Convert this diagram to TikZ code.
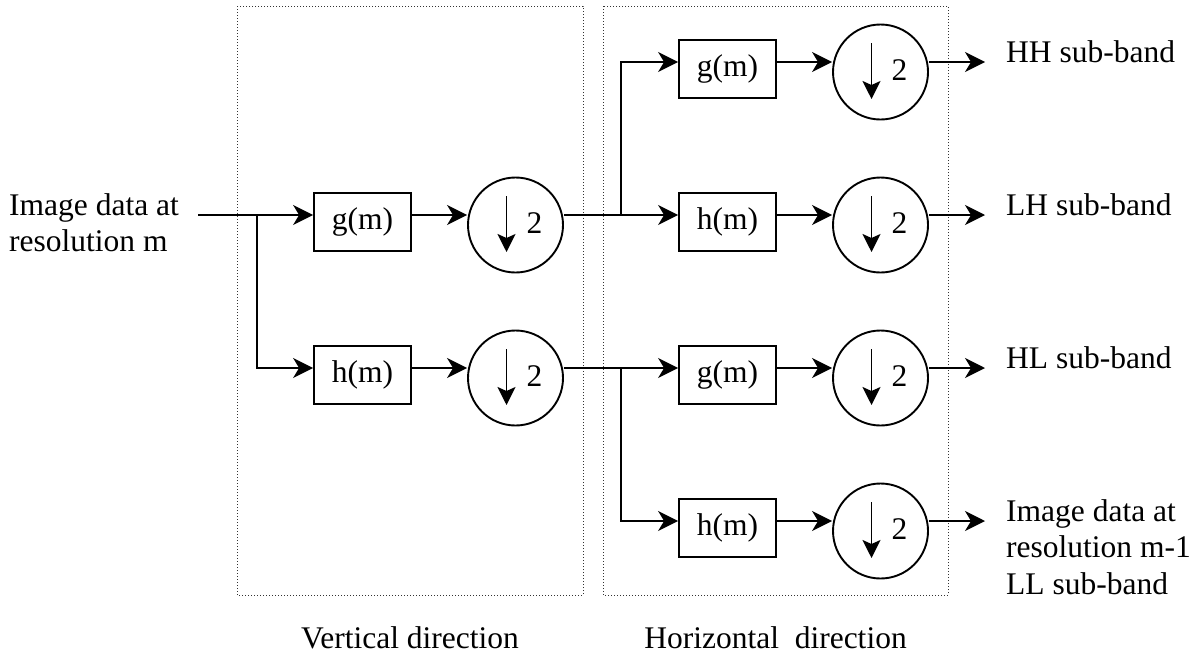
\documentclass[tikz,border=0pt]{standalone}
\usepackage{fontspec}
\setmainfont{Liberation Serif}
\usetikzlibrary{arrows.meta,calc}
\begin{document}
\begin{tikzpicture}[x=1pt,y=-1pt,
  txt/.style={font=\fontsize{31.5}{36.5}\selectfont, inner sep=0pt},
  fbox/.style={draw, line width=1.8pt, minimum width=97pt, minimum height=58pt, inner sep=0pt, font=\fontsize{31.5}{36.5}\selectfont},
  dsc/.style={draw, circle, line width=1.9pt, minimum size=95pt, inner sep=0pt},
  conn/.style={line width=1.9pt, -{Stealth[length=20pt,width=20pt,inset=6pt]}},
  darr/.style={line width=1.8pt, -{Stealth[length=18pt,width=18pt,inset=4pt]}},
  region/.style={draw=black!80, line width=1pt, dash pattern=on 1pt off 2pt}
]
\useasboundingbox (0,0) rectangle (1198,662);

% row lines
\coordinate (R1) at (0,62);
\coordinate (R2) at (0,215);
\coordinate (R3) at (0,368);
\coordinate (R4) at (0,521);

% dotted regions
\draw[region] (237,6) rectangle (583,595);
\draw[region] (603,6) rectangle (948,595);

% vertical stage
\node[fbox] (g1) at (362.5,222) {g(m)};
\node[fbox] (h1) at (362.5,375) {h(m)};
\node[dsc] (d1) at (515.5,225) {};
\node[dsc] (d2) at (515.5,378) {};

% horizontal stage
\node[fbox] (g2) at (727.5,69) {g(m)};
\node[fbox] (h2) at (727.5,222) {h(m)};
\node[fbox] (g3) at (727.5,375) {g(m)};
\node[fbox] (h3) at (727.5,528) {h(m)};
\node[dsc] (d3) at (880.5,72) {};
\node[dsc] (d4) at (880.5,225) {};
\node[dsc] (d5) at (880.5,378) {};
\node[dsc] (d6) at (880.5,531) {};

% circle contents
\foreach \c in {d1,d2,d3,d4,d5,d6}{
  \draw[darr] ($(\c.center)+(-9,-29)$) -- ($(\c.center)+(-9,27)$);
  \node[txt] (\c-two) at ($(\c.center)+(19,-2)$) {2};
}

% labels
\node[txt, anchor=base west] (inlab) at (9,215)
  {\begin{tabular}[t]{@{}l@{}}Image data at\\resolution m\end{tabular}};
\node[txt, anchor=base west] (o1lab) at (1006,62) {HH sub-band};
\node[txt, anchor=base west] (o2lab) at (1006,215) {LH sub-band};
\node[txt, anchor=base west] (o3lab) at (1006,368) {HL sub-band};
\node[txt, anchor=base west] (o4lab) at (1006,521)
  {\begin{tabular}[t]{@{}l@{}}Image data at\\resolution m-1\\LL sub-band\end{tabular}};
\node[txt, anchor=base] (vlab) at (410,648) {Vertical direction};
\node[txt, anchor=base] (hlab) at (775.5,648) {Horizontal\ \ direction};

% connectors
\coordinate (in) at (198,215);
\coordinate (j1) at (257,215);
\coordinate (j2) at (621,215);
\coordinate (j3) at (621,368);
\coordinate (o1) at (985,62);
\coordinate (o2) at (985,215);
\coordinate (o3) at (985,368);
\coordinate (o4) at (985,521);

\draw[conn] (in) -- (g1.west |- R2);
\draw[conn] (j1) |- (h1.west |- R3);
\draw[conn] (g1.east |- R2) -- (d1.west |- R2);
\draw[conn] (h1.east |- R3) -- (d2.west |- R3);
\draw[conn] (d1.east |- R2) -- (h2.west |- R2);
\draw[conn] (j2) |- (g2.west |- R1);
\draw[conn] (d2.east |- R3) -- (g3.west |- R3);
\draw[conn] (j3) |- (h3.west |- R4);
\draw[conn] (g2.east |- R1) -- (d3.west |- R1);
\draw[conn] (h2.east |- R2) -- (d4.west |- R2);
\draw[conn] (g3.east |- R3) -- (d5.west |- R3);
\draw[conn] (h3.east |- R4) -- (d6.west |- R4);
\draw[conn] (d3.east |- R1) -- (o1);
\draw[conn] (d4.east |- R2) -- (o2);
\draw[conn] (d5.east |- R3) -- (o3);
\draw[conn] (d6.east |- R4) -- (o4);
\end{tikzpicture}
\end{document}
